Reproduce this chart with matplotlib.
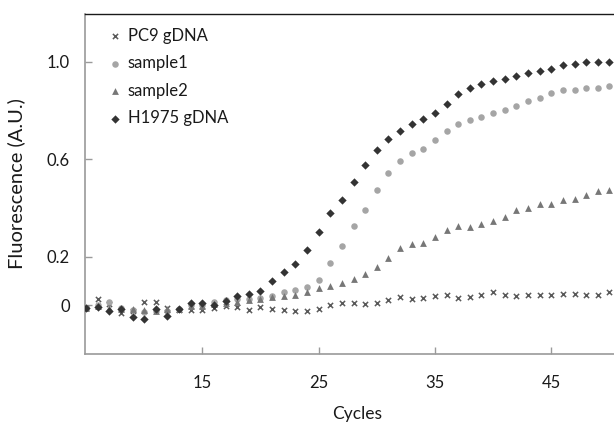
import matplotlib
matplotlib.use("Agg")
import matplotlib.pyplot as plt

cycles = list(range(5, 51))

pc9 = [-0.010, 0.025, 0.005, -0.033, -0.025, 0.014, 0.012, -0.010, -0.020, -0.020,
       -0.018, -0.010, -0.004, -0.009, -0.020, -0.009, -0.014, -0.018, -0.025, -0.024,
       -0.014, 0.003, 0.008, 0.008, 0.004, 0.010, 0.023, 0.034, 0.026, 0.028,
       0.037, 0.042, 0.028, 0.035, 0.044, 0.053, 0.043, 0.036, 0.042, 0.042,
       0.044, 0.046, 0.045, 0.043, 0.043, 0.055]

sample1 = [-0.010, 0.000, 0.014, -0.012, -0.020, -0.028, -0.025, -0.025, -0.015, 0.000,
           0.003, 0.012, 0.020, 0.025, 0.025, 0.030, 0.038, 0.053, 0.061, 0.075,
           0.103, 0.172, 0.244, 0.326, 0.390, 0.473, 0.544, 0.591, 0.626, 0.643,
           0.678, 0.715, 0.744, 0.759, 0.774, 0.787, 0.801, 0.817, 0.840, 0.852,
           0.872, 0.882, 0.882, 0.891, 0.891, 0.900]

sample2 = [-0.010, -0.005, -0.010, -0.015, -0.016, -0.020, -0.025, -0.014, -0.015, -0.005,
           -0.003, 0.005, 0.010, 0.015, 0.020, 0.025, 0.032, 0.038, 0.042, 0.054,
           0.070, 0.081, 0.091, 0.108, 0.128, 0.157, 0.192, 0.234, 0.253, 0.256,
           0.278, 0.309, 0.324, 0.323, 0.333, 0.346, 0.363, 0.391, 0.398, 0.417,
           0.417, 0.432, 0.435, 0.451, 0.469, 0.473]

h1975 = [-0.011, -0.009, -0.022, -0.016, -0.050, -0.057, -0.016, -0.043, -0.016, 0.008,
         0.008, 0.003, 0.018, 0.036, 0.045, 0.060, 0.098, 0.135, 0.169, 0.227,
         0.301, 0.380, 0.431, 0.505, 0.574, 0.637, 0.684, 0.714, 0.745, 0.763,
         0.787, 0.827, 0.865, 0.893, 0.906, 0.922, 0.929, 0.940, 0.951, 0.961,
         0.970, 0.984, 0.991, 1.000, 1.000, 1.000]

series_labels = ["PC9 gDNA", "sample1", "sample2", "H1975 gDNA"]
x_ticks = [15, 25, 35, 45]
y_ticks = [0, 0.2, 0.6, 1.0]
y_tick_labels = ["0", "0.2", "0.6", "1.0"]

plt.rcParams['font.family'] = ['Lato', 'DejaVu Sans']

W, H = 614, 423
fig = plt.figure(figsize=(W / 100, H / 100), dpi=100)
ax = fig.add_axes([85 / W, (H - 354) / H, (630 - 85) / W, (354 - 14) / H])

ax.scatter(cycles, pc9, marker="x", s=14, color="#5a5a5a", linewidths=1.1,
           label=series_labels[0], zorder=3)
ax.scatter(cycles, sample1, marker="o", s=22, color="#a5a5a5", linewidths=0,
           label=series_labels[1], zorder=3)
ax.scatter(cycles, sample2, marker="^", s=24, color="#777777", linewidths=0,
           label=series_labels[2], zorder=3)
ax.scatter(cycles, h1975, marker="D", s=18, color="#333333", linewidths=0,
           label=series_labels[3], zorder=4)

ax.set_xlim(4.914, 51.77)
ax.set_ylim(-0.2, 1.195)
ax.set_xticks(x_ticks)
ax.set_yticks(y_ticks)
ax.set_yticklabels(y_tick_labels)

for side in ["left", "bottom"]:
    ax.spines[side].set_color("#9a9a9a")
    ax.spines[side].set_linewidth(1.2)
ax.spines["top"].set_color("#1a1a1a")
ax.spines["top"].set_linewidth(1.0)
ax.spines["right"].set_visible(False)

ax.tick_params(axis="both", direction="in", length=5, width=1, color="#9a9a9a",
               labelsize=12, labelcolor="#1a1a1a")
ax.tick_params(axis="x", pad=15)
ax.tick_params(axis="y", pad=11)

ax.set_xlabel("Cycles", fontsize=12.5, color="#1a1a1a", labelpad=11)
ax.set_ylabel("Fluorescence (A.U.)", fontsize=14.5, color="#1a1a1a")
ax.yaxis.set_label_coords(-0.110, 0.5)

leg = ax.legend(loc="upper left", bbox_to_anchor=(0.037, 0.96), frameon=False,
                fontsize=12, handletextpad=0.15, labelspacing=0.69,
                handlelength=1.2, borderaxespad=0.0, borderpad=0.0,
                scatterpoints=1)
for t in leg.get_texts():
    t.set_color("#1a1a1a")

fig.savefig("out.png", dpi=100)
